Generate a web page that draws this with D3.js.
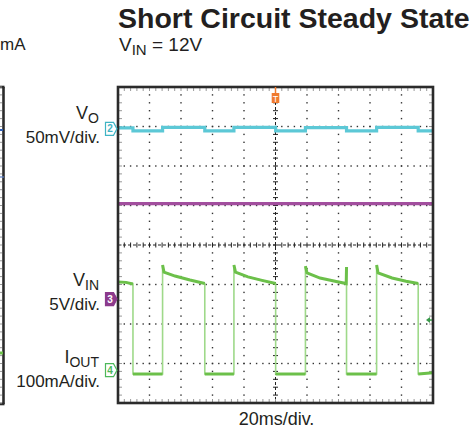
<!DOCTYPE html>
<html><head><meta charset="utf-8">
<script src="https://cdn.jsdelivr.net/npm/d3@7/dist/d3.min.js"></script>
<style>
body{margin:0;background:#fff}
svg{display:block;font-family:"Liberation Sans",Arial,Helvetica,sans-serif}
</style>
</head><body>
<svg id="c" width="472" height="435"></svg>
<script>
// ---------- data ----------
const titleText = "Short Circuit Steady State";
const timePerDivLabel = "20ms/div.";
const channelNames = ["VO", "VIN", "IOUT"];
const channelScaleLabels = ["50mV/div.", "5V/div.", "100mA/div."];
const channelPerDiv = [50, 5, 100];          // mV, V, mA per division
// CH2: VO (mV) – step trace, value holds until next time
const voTimeMs = [0, 9.5, 28.3, 55.1, 73.6, 100.1, 119.0, 145.1, 164.2, 190.6, 200];
const voMv     = [1.2, -2.6, 2.0, -2.6, 2.0, -2.6, 1.6, -2.6, 2.0, -2.6, -2.6];
// CH3: VIN (V)
const vinTimeMs = [0, 200];
const vinV      = [12.0, 12.0];
// CH4: IOUT (mA)
const ioutTimeMs = [0, 5, 9.5, 9.5, 28.3, 28.3, 29.2, 36.2, 45.7, 55.1, 55.1, 73.6, 73.6, 74.6, 82.5, 91.4, 100.1, 100.1,
  119.0, 119.0, 120.0, 128.3, 137.8, 144.9, 145.1, 145.1, 164.2, 164.2, 165.1, 174.0, 182.9, 190.6, 190.6, 200];
const ioutMa = [233, 232, 228, 0, 0, 276, 258, 248, 238, 229, 0, 0, 276, 258, 246, 237, 229, 0,
  0, 273, 256, 243, 235, 229, 271, 0, 0, 276, 256, 243, 235, 229, 0, 3];

// ---------- layout ----------
const plot = {left:118, right:433, top:87, bottom:403};
const groundDiv = [2.94, -1.355, -3.266];      // channel ground reference (divisions from centre)
const markerDiv = [2.94, -1.37, -3.17];

const svg = d3.select("#c");
const x = d3.scaleLinear().domain([0, 200]).range([plot.left, plot.right]);
const y = d3.scaleLinear().domain([-4, 4]).range([plot.bottom, plot.top]);
const toDiv = (ch, v) => groundDiv[ch] + v / channelPerDiv[ch];

const minorT = d3.range(0, 201, 4);
const minorV = d3.range(0, 41).map(i => -4 + i * 0.2);

// grid dots
const g = svg.append("g");
[20,40,60,80,120,140,160,180].forEach(t => {
  minorV.forEach(v => g.append("rect").attr("x", x(t)-0.7).attr("y", y(v)-0.7)
    .attr("width",1.4).attr("height",1.4).attr("fill","#333"));
});
[-3,-2,-1,1,2,3].forEach(v => {
  minorT.forEach(t => g.append("rect").attr("x", x(t)-0.7).attr("y", y(v)-0.7)
    .attr("width",1.4).attr("height",1.4).attr("fill","#333"));
});
// centre axes
g.append("line").attr("x1", x(100)).attr("x2", x(100)).attr("y1", plot.top).attr("y2", plot.bottom)
  .attr("stroke","#222").attr("stroke-width",1).attr("stroke-dasharray","3,2");
g.append("line").attr("y1", y(0)).attr("y2", y(0)).attr("x1", plot.left).attr("x2", plot.right)
  .attr("stroke","#222").attr("stroke-width",1).attr("stroke-dasharray","3,2");
minorV.forEach(v => g.append("line").attr("x1", x(100)-2.5).attr("x2", x(100)+2.5)
  .attr("y1", y(v)).attr("y2", y(v)).attr("stroke","#222").attr("stroke-width",1));
minorT.forEach(t => g.append("line").attr("y1", y(0)-2.5).attr("y2", y(0)+2.5)
  .attr("x1", x(t)).attr("x2", x(t)).attr("stroke","#222").attr("stroke-width",1));
// frame ticks
minorT.forEach(t => {
  g.append("line").attr("x1",x(t)).attr("x2",x(t)).attr("y1",plot.top).attr("y2",plot.top+4).attr("stroke","#999");
  g.append("line").attr("x1",x(t)).attr("x2",x(t)).attr("y1",plot.bottom-4).attr("y2",plot.bottom).attr("stroke","#999");
});
minorV.forEach(v => {
  g.append("line").attr("y1",y(v)).attr("y2",y(v)).attr("x1",plot.left).attr("x2",plot.left+4).attr("stroke","#999");
  g.append("line").attr("y1",y(v)).attr("y2",y(v)).attr("x1",plot.right-4).attr("x2",plot.right).attr("stroke","#999");
});

// ---------- traces ----------
const lin = d3.line().x(d => x(d[0])).y(d => y(d[1]));
const voPts = voTimeMs.map((t,i) => [t, toDiv(0, voMv[i])]);
svg.append("path").attr("d", d3.line().x(d=>x(d[0])).y(d=>y(d[1])).curve(d3.curveStepAfter)(voPts))
  .attr("fill","none").attr("stroke","#5cc8d6").attr("stroke-width",3.2);
const vinPts = vinTimeMs.map((t,i) => [t, toDiv(1, vinV[i])]);
svg.append("path").attr("d", lin(vinPts))
  .attr("fill","none").attr("stroke","#a24e9e").attr("stroke-width",3.2);
const iPts = ioutTimeMs.map((t,i) => [t, toDiv(2, ioutMa[i])]);
svg.append("path").attr("d", lin(iPts)).attr("fill","none").attr("stroke","#9fd98a").attr("stroke-width",1.6);
// thick non-vertical runs
let runs = [], cur = [iPts[0]];
for (let i = 1; i < iPts.length; i++) {
  if (iPts[i][0] === iPts[i-1][0]) { if (cur.length > 1) runs.push(cur); cur = [iPts[i]]; }
  else cur.push(iPts[i]);
}
if (cur.length > 1) runs.push(cur);
runs.forEach(r => svg.append("path").attr("d", lin(r)).attr("fill","none")
  .attr("stroke","#6cc04a").attr("stroke-width",3));

// frame
svg.append("rect").attr("x",plot.left).attr("y",plot.top).attr("width",plot.right-plot.left)
  .attr("height",plot.bottom-plot.top).attr("fill","none").attr("stroke","#2b2b2b").attr("stroke-width",2.6);

// channel markers
const mk = (cy, stroke, fill, txt, tcol) => {
  const x0 = 105.5, h = 6.5;
  svg.append("path").attr("d", `M${x0},${cy-h}H${x0+8}L${x0+11.5},${cy}L${x0+8},${cy+h}H${x0}Z`)
    .attr("fill", fill).attr("stroke", stroke).attr("stroke-width",1.2);
  svg.append("text").attr("x", x0+4.5).attr("y", cy+3.5).attr("text-anchor","middle")
    .attr("font-size",10).attr("font-weight","bold").attr("fill",tcol).text(txt);
};
mk(y(markerDiv[0]), "#3fb4c4", "#fff", "2", "#3fb4c4");
mk(y(markerDiv[1]), "#8c3a8c", "#8c3a8c", "3", "#fff");
mk(y(markerDiv[2]), "#4db85a", "#fff", "4", "#4db85a");

// trigger marker
svg.append("line").attr("x1",x(100)).attr("x2",x(100)).attr("y1",plot.top).attr("y2",plot.top+6)
  .attr("stroke","#f07a2e").attr("stroke-width",1.5);
svg.append("rect").attr("x",x(100)-3.8).attr("y",plot.top+6).attr("width",7.6).attr("height",10)
  .attr("fill","#f07a2e");
svg.append("text").attr("x",x(100)).attr("y",plot.top+14.5).attr("text-anchor","middle")
  .attr("font-size",9).attr("fill","#fff").text("T");
// trigger level arrow (right)
const ty = y(-1.9);
svg.append("path").attr("d",`M${plot.right-7},${ty}L${plot.right-3},${ty-3}L${plot.right-3},${ty+3}Z`).attr("fill","#3a9a4a");
svg.append("line").attr("x1",plot.right-4).attr("x2",plot.right-1).attr("y1",ty).attr("y2",ty).attr("stroke","#3a9a4a").attr("stroke-width",1.5);

// ---------- text ----------
svg.append("text").attr("x",118).attr("y",28).attr("font-size",28.5).attr("font-weight","bold")
  .attr("fill","#231f20").text(titleText);
const sub = svg.append("text").attr("x",119).attr("y",51).attr("font-size",19).attr("fill","#231f20");
sub.append("tspan").text("V");
sub.append("tspan").attr("font-size",15).attr("dy",4).text("IN");
sub.append("tspan").attr("dy",-4).text(" = 12V");

const lab = (ybase, main, subTxt, scaleTxt, scaleBase) => {
  const t = svg.append("text").attr("x",99).attr("y",ybase).attr("text-anchor","end")
    .attr("font-size",18).attr("fill","#231f20");
  t.append("tspan").text(main);
  t.append("tspan").attr("font-size",14).attr("dy",4).text(subTxt);
  svg.append("text").attr("x",100).attr("y",scaleBase).attr("text-anchor","end")
    .attr("font-size",17).attr("fill","#231f20").text(scaleTxt);
};
lab(119, "V", "O", channelScaleLabels[0], 143);
lab(286, "V", "IN", channelScaleLabels[1], 310);
lab(363, "I", "OUT", channelScaleLabels[2], 387);

svg.append("text").attr("x",x(100)+1).attr("y",425).attr("text-anchor","middle")
  .attr("font-size",18).attr("fill","#231f20").text(timePerDivLabel);

// partial neighbouring panel at left edge (cropped)
svg.append("text").attr("x",0).attr("y",50).attr("font-size",17)
  .attr("fill","#231f20").text("mA");
svg.append("line").attr("x1",3.5).attr("x2",3.5).attr("y1",87).attr("y2",404)
  .attr("stroke","#2b2b2b").attr("stroke-width",2.6);
svg.append("line").attr("x1",0).attr("x2",4.5).attr("y1",87).attr("y2",87).attr("stroke","#2b2b2b").attr("stroke-width",2.6);
svg.append("line").attr("x1",0).attr("x2",4.5).attr("y1",404).attr("y2",404).attr("stroke","#2b2b2b").attr("stroke-width",2.6);
minorV.forEach(v => svg.append("line").attr("x1",0).attr("x2",2).attr("y1",y(v)).attr("y2",y(v)).attr("stroke","#999"));
svg.append("line").attr("x1",0).attr("x2",3).attr("y1",130).attr("y2",130).attr("stroke","#2f5fb5").attr("stroke-width",2);
svg.append("line").attr("x1",0).attr("x2",4).attr("y1",177).attr("y2",177).attr("stroke","#5a7fc8").attr("stroke-width",1.2);
svg.append("line").attr("x1",0).attr("x2",3).attr("y1",353).attr("y2",353).attr("stroke","#6cc04a").attr("stroke-width",3);
</script>
</body></html>
